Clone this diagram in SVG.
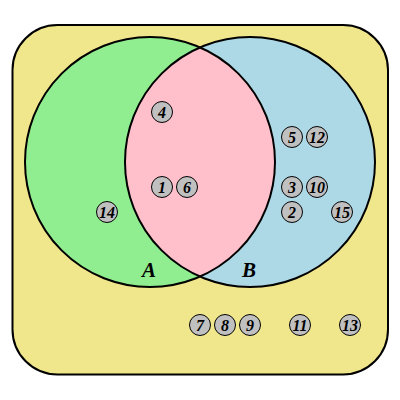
<svg xmlns="http://www.w3.org/2000/svg" width="400" height="400" viewBox="0 0 400 400">
<style>
.outline{fill:none;stroke:#000;stroke-width:2}
.el circle{fill:#c0c0c0;stroke:#000;stroke-width:1}
.el text{font-family:"Liberation Serif",serif;font-style:italic;font-weight:bold;font-size:16px;text-anchor:middle;fill:#000}
.lbl{font-family:"Liberation Serif",serif;font-style:italic;font-weight:bold;font-size:21px;text-anchor:middle;fill:#000}
</style>
<g id="universe">
<rect x="12.5" y="25" width="375.5" height="349.5" rx="45" ry="45" fill="#f0e68c" stroke="#000" stroke-width="2"/>
</g>
<g id="setA">
<circle cx="150" cy="162" r="125" fill="#90ee90"/>
</g>
<g id="setB">
<circle cx="250" cy="162" r="125" fill="#add8e6"/>
</g>
<g id="intersection">
<path d="M200,47.4 A125,125 0 0,1 200,276.6 A125,125 0 0,1 200,47.4 Z" fill="#ffc0cb"/>
</g>
<g id="outlines">
<circle class="outline" cx="150" cy="162" r="125"/>
<circle class="outline" cx="250" cy="162" r="125"/>
</g>
<g id="labels">
<text class="lbl" x="149" y="277">A</text>
<text class="lbl" x="249" y="277">B</text>
</g>
<g class="el" id="e4"><circle cx="162" cy="112" r="10.5"/><text x="162" y="117.5">4</text></g>
<g class="el" id="e1"><circle cx="162" cy="187" r="10.5"/><text x="162" y="192.5">1</text></g>
<g class="el" id="e6"><circle cx="187" cy="187" r="10.5"/><text x="187" y="192.5">6</text></g>
<g class="el" id="e14"><circle cx="107" cy="212" r="10.5"/><text x="107" y="217.5">14</text></g>
<g class="el" id="e5"><circle cx="292" cy="137" r="10.5"/><text x="292" y="142.5">5</text></g>
<g class="el" id="e12"><circle cx="317" cy="137" r="10.5"/><text x="317" y="142.5">12</text></g>
<g class="el" id="e3"><circle cx="292" cy="187" r="10.5"/><text x="292" y="192.5">3</text></g>
<g class="el" id="e10"><circle cx="317" cy="187" r="10.5"/><text x="317" y="192.5">10</text></g>
<g class="el" id="e2"><circle cx="292" cy="212" r="10.5"/><text x="292" y="217.5">2</text></g>
<g class="el" id="e15"><circle cx="342" cy="212" r="10.5"/><text x="342" y="217.5">15</text></g>
<g class="el" id="e7"><circle cx="200" cy="325" r="10.5"/><text x="200" y="330.5">7</text></g>
<g class="el" id="e8"><circle cx="225" cy="325" r="10.5"/><text x="225" y="330.5">8</text></g>
<g class="el" id="e9"><circle cx="250" cy="325" r="10.5"/><text x="250" y="330.5">9</text></g>
<g class="el" id="e11"><circle cx="300" cy="325" r="10.5"/><text x="300" y="330.5">11</text></g>
<g class="el" id="e13"><circle cx="350" cy="325" r="10.5"/><text x="350" y="330.5">13</text></g>
</svg>
